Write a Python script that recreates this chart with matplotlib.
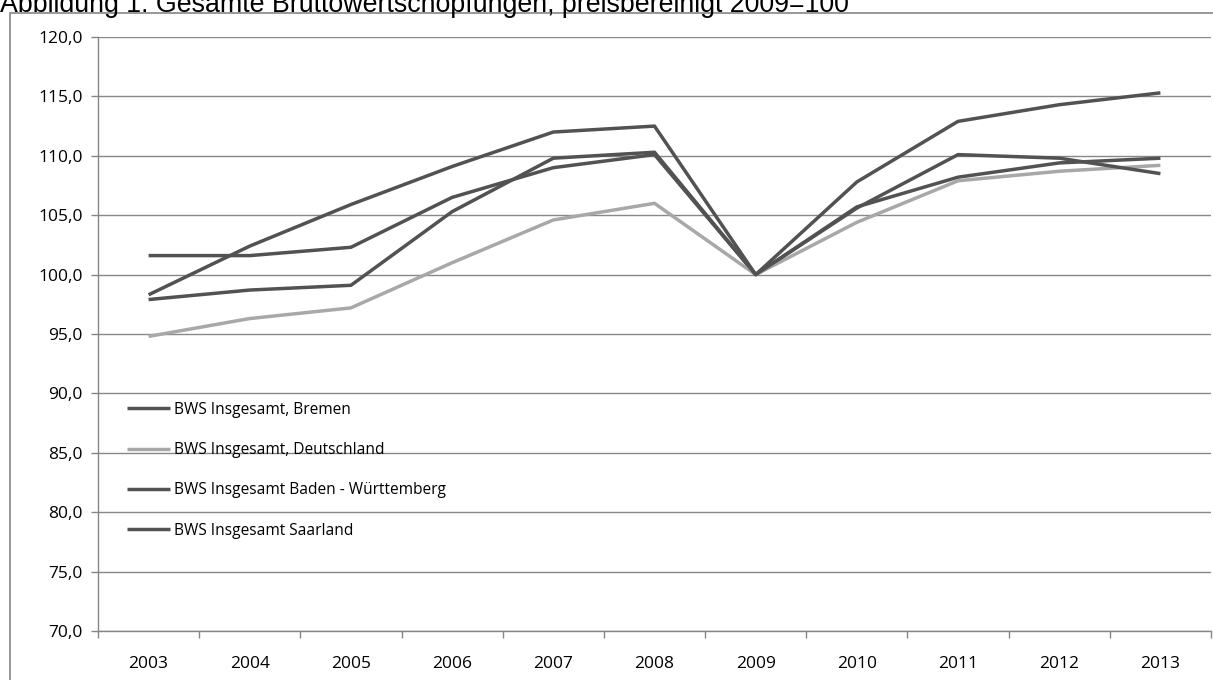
import matplotlib
matplotlib.use("Agg")
import matplotlib.pyplot as plt
from matplotlib.ticker import FuncFormatter, FixedLocator

years = ["2003", "2004", "2005", "2006", "2007", "2008", "2009", "2010", "2011", "2012", "2013"]
bremen = [101.6, 101.6, 102.3, 106.5, 109.0, 110.1, 100.0, 105.7, 108.2, 109.4, 109.8]
deutschland = [94.8, 96.3, 97.2, 101.0, 104.6, 106.0, 100.0, 104.4, 107.9, 108.7, 109.2]
baden_wuerttemberg = [98.3, 102.4, 105.9, 109.1, 112.0, 112.5, 100.0, 107.8, 112.9, 114.3, 115.3]
saarland = [97.9, 98.7, 99.1, 105.3, 109.8, 110.3, 100.0, 105.6, 110.1, 109.8, 108.5]
labels = ["BWS Insgesamt, Bremen", "BWS Insgesamt, Deutschland",
          "BWS Insgesamt Baden - Württemberg", "BWS Insgesamt Saarland"]
title = "Abbildung 1: Gesamte Bruttowertschöpfungen, preisbereinigt 2009=100"

W, H = 1213, 680
fig = plt.figure(figsize=(W / 100, H / 100), dpi=100)
ax = fig.add_axes([98 / W, 1 - 631 / H, (1211 - 98) / W, (631 - 37) / H])

dark = "#525252"
light = "#a8a8a8"
x = list(range(len(years)))
series = [(bremen, dark), (deutschland, light), (baden_wuerttemberg, dark), (saarland, dark)]
for (vals, col), lab in zip(series, labels):
    ax.plot(x, vals, color=col, lw=2.5, label=lab, solid_capstyle="butt", zorder=3)

ax.set_xlim(-0.5, len(years) - 0.5)
ax.set_ylim(70, 120)
ax.set_yticks(range(70, 121, 5))
ax.yaxis.set_major_formatter(FuncFormatter(lambda v, p: f"{v:.1f}".replace(".", ",")))
ax.set_xticks(x)
ax.set_xticklabels(years)
ax.xaxis.set_minor_locator(FixedLocator([i - 0.5 for i in range(len(years) + 1)]))
ax.tick_params(axis="x", which="major", length=0, pad=18)
ax.tick_params(axis="x", which="minor", length=5, color="#868686", width=1)
ax.tick_params(axis="y", length=5, color="#868686", width=1, pad=6)

for lab in ax.get_xticklabels() + ax.get_yticklabels():
    lab.set_fontfamily("Open Sans")
    lab.set_fontsize(12.5)
    lab.set_color("#000000")

ax.grid(axis="y", color="#888888", lw=1)
ax.set_axisbelow(True)
for s in ["top", "right"]:
    ax.spines[s].set_visible(False)
for s in ["left", "bottom"]:
    ax.spines[s].set_color("#868686")
    ax.spines[s].set_linewidth(1)

leg = ax.legend(loc="upper left", bbox_to_anchor=(0.0204, 0.3965), frameon=False,
                prop={"family": "Open Sans", "size": 11.2}, handlelength=2.8,
                handletextpad=0.2, labelspacing=1.56, borderaxespad=0)

# outer chart frame
frame = plt.Rectangle((10 / W, -0.01), 1.2, 1 - 13 / H + 0.01, transform=fig.transFigure,
                      fill=False, edgecolor="#868686", lw=1.2, zorder=0)
fig.add_artist(frame)

fig.text(0.0, 1 - 12 / H, title, fontsize=19.3, family="Liberation Sans",
         va="baseline", ha="left")

fig.savefig("out.png", dpi=100)
